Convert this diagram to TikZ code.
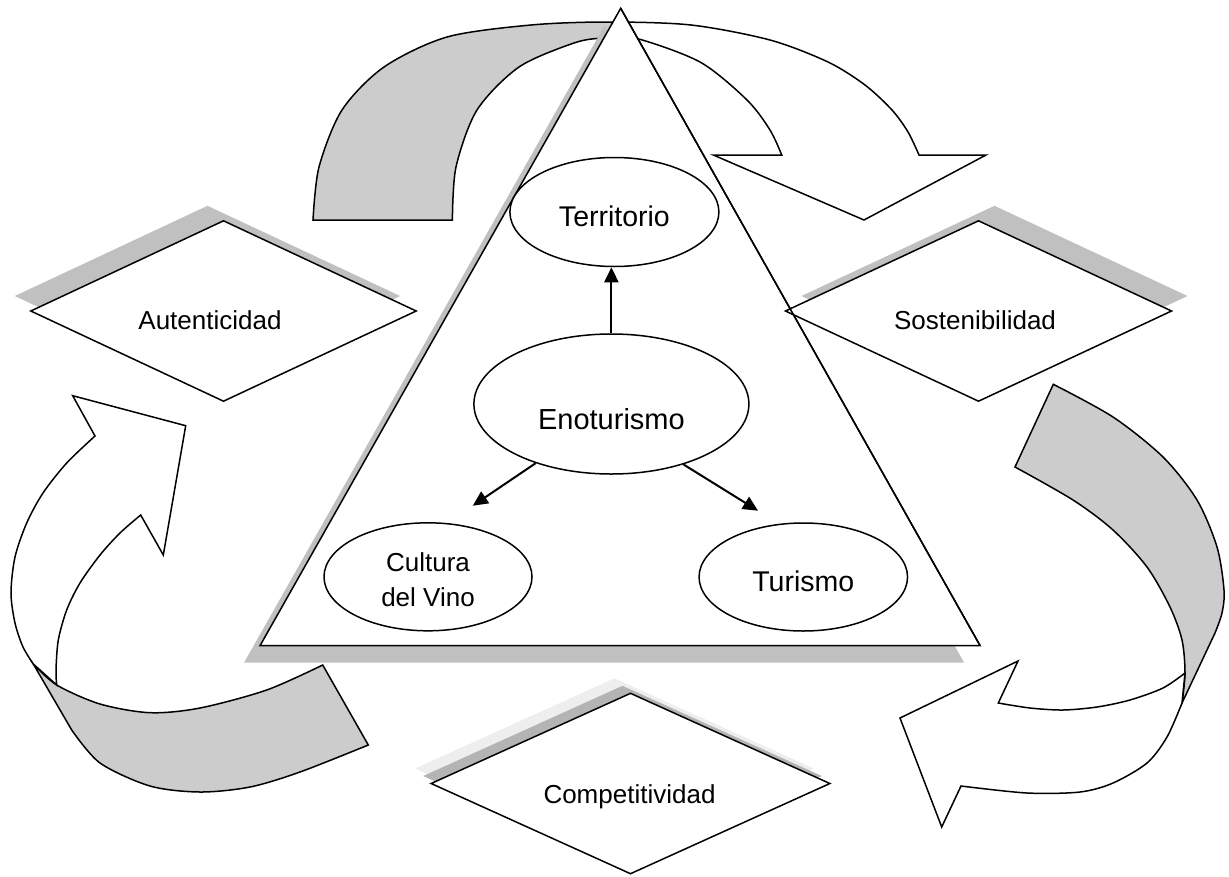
\documentclass[tikz,border=0pt]{standalone}
\usepackage{fontspec}
\setmainfont{Liberation Sans}
\usetikzlibrary{positioning,shapes.geometric,arrows.meta,shadows}
\definecolor{ribbon}{HTML}{CCCCCC}
\definecolor{shade}{HTML}{C0C0C0}
\definecolor{shadelight}{HTML}{EEEEEE}
\definecolor{shadedark}{HTML}{B4B4B4}

\tikzset{
	oval/.style={draw, ellipse, fill=white, line width=1.5pt, inner sep=0pt},
	rombo/.style={draw, diamond, fill=white, line width=1.5pt, inner sep=0pt, minimum height=181},
	backside/.style={draw, fill=ribbon, line width=1.5pt, line join=miter},
	frontside/.style={draw, fill=white, line width=1.5pt, line join=miter},
	link/.style={line width=2pt, -{Triangle[length=15pt,width=14pt]}},
	bigtxt/.style={font=\fontsize{28.5}{34}\selectfont},
	midtxt/.style={font=\fontsize{26}{35}\selectfont, align=center},
	castshadow/.style 2 args={drop shadow={shadow xshift=#1, shadow yshift=#2, fill=shade, opacity=1}}
}

\begin{document}
\begin{tikzpicture}[x=1pt, y=-1pt]
	\useasboundingbox (0,0) rectangle (1229,876);
	\coordinate (apex) at (620.7,8.3);
	\coordinate (baseL) at (260,645.7);
	\coordinate (baseR) at (980,645.5);

	%% ribbons
	% left one
	\draw[backside] plot[smooth] coordinates {(322.7,665) (266.7,690) (200,708) (150,712.7) (100,704) (56.7,685) (33.3,664)}
		-- (71.7,730) -- plot[smooth] coordinates {(71.7,730) (100,763) (150,786) (200,792) (250,787) (300,772) (368.3,745)} -- cycle;
	\draw[frontside] plot[smooth] coordinates {(33.3,664) (23,647) (15,623) (11,593) (15,557) (26.7,523) (43,493) (66.7,463) (95,436)}
		-- (72.7,395.7) -- (185.7,425.7) -- (163.3,555)
		-- plot[smooth] coordinates {(140.7,515) (120,533) (100,555) (80,583) (66.7,610) (58.3,640) (56,670) (56.7,685)} -- cycle;
	% right one
	\draw[backside] plot[smooth] coordinates {(1053.3,384.3) (1113,417) (1163,457) (1197,500) (1217,547) (1224,590) (1222,613) (1215,633)}
		-- (1182,703) -- plot[smooth] coordinates {(1182,703) (1185,673) (1182,640) (1170,607) (1147,567) (1113,530) (1073,500) (1015,467)} -- cycle;
	\draw[frontside] plot[smooth] coordinates {(1185,673) (1163,688) (1130,700) (1097,707) (1063,710) (1030,708) (998.3,703)}
		-- (1018,661) -- (900,718) -- (941.7,827)
		-- plot[smooth] coordinates {(961,786) (1027,793) (1080,792) (1113,783) (1147,763) (1167,737) (1182,703)} -- cycle;
	% top one, grey behind the triangle's left side
	\path[save path=\topribbon] plot[smooth] coordinates {(313,220) (319,167) (342,110) (384,67) (447,37) (531,25) (607,22) (691,25) (770,40) (828,62) (865,85) (892,110) (908,132) (919,155)}
		-- (986,155) -- (864,220) -- (713.3,155)
		-- plot[smooth] coordinates {(781.7,155) (770,130) (747,100) (700,62) (635,38) (603,38) (574,43) (519,67) (477,110) (456,167) (452.4,220)} -- cycle;
	\fill[white, use path=\topribbon];
	\begin{scope}
		\clip (0,-10) -- (628,-10) -- (apex) -- (baseL) -- (0,646) -- cycle;
		\fill[ribbon, use path=\topribbon];
	\end{scope}
	\draw[line width=1.5pt, line join=miter, use path=\topribbon];

	%% triangle
	\draw[fill=white, line width=1.5pt, castshadow={-16pt}{-17pt}] (apex) -- (baseR) -- (baseL) -- cycle;

	\node[oval, minimum width=275, minimum height=140,
		label={[bigtxt, font=\fontsize{29}{35}\selectfont, yshift=-15pt]center:Enoturismo}] (eno) at (611.4,404) {};
	\node[oval, minimum width=209, minimum height=109, above=66pt of eno, xshift=3pt,
		label={[bigtxt, yshift=-4.6pt]center:Territorio}] (terr) {};
	\node[oval, minimum width=208, minimum height=108,
		label={[midtxt, yshift=-3pt]center:{Cultura\\del Vino}}] (vino) at (428,576.8) {};
	\node[oval, minimum width=208.5, minimum height=108,
		label={[bigtxt, yshift=-4.5pt]center:Turismo}] (tur) at (803.3,577) {};

	\coordinate (tipV) at (472.8,505.7);
	\coordinate (tipT) at (758,510.7);
	\draw[link] (eno.north) -- (eno.north |- terr.south);
	\draw[link] (eno.218) -- (tipV);
	\draw[link] (eno.320) -- (tipT);

	%% diamonds
	\node[rombo, minimum width=386, castshadow={-16pt}{15pt},
		label={[midtxt, xshift=-13.5pt, yshift=-9.7pt]center:Autenticidad}] (aut) at (223.5,311) {};
	\node[rombo, minimum width=386.7, castshadow={16pt}{15pt},
		label={[midtxt, xshift=-3.5pt, yshift=-9.7pt]center:Sostenibilidad}] (sos) at (978.5,311) {};
	\node[rombo, minimum width=399.3,
		drop shadow={shadow xshift=-16pt, shadow yshift=15pt, fill=shadelight, opacity=1},
		drop shadow={shadow xshift=-8pt, shadow yshift=7.5pt, fill=shadedark, opacity=1},
		label={[midtxt, xshift=-1pt, yshift=-13.3pt]center:Competitividad}] (comp) at (630.5,783.5) {};

	% triangle edge over the diamond tip
	\draw[line width=1.5pt] (apex) -- (baseR);
\end{tikzpicture}
\end{document}
